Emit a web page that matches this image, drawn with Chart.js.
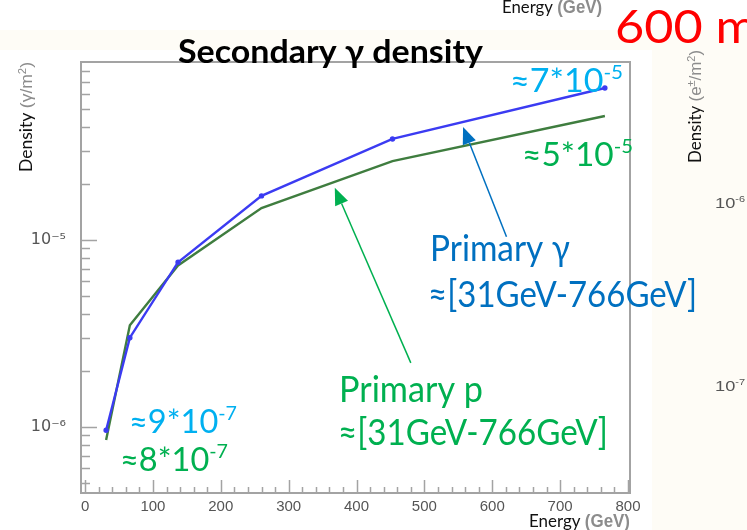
<!DOCTYPE html>
<html lang="en">
<head>
<meta charset="UTF-8">
<title>Secondary γ density</title>
<style>
  body { margin: 0; background: #fff; }
  canvas { display: block; }
</style>
</head>
<body>
<canvas id="chart" width="747" height="530"></canvas>
<script src="https://cdn.jsdelivr.net/npm/chart.js"></script>
<script>
// values
const energies = [31, 66, 137, 260, 453, 766];
const gammaDensity = [9.6e-7, 3.0e-6, 7.6e-6, 1.72e-5, 3.47e-5, 6.5e-5];
const protonDensity = [8.5e-7, 3.5e-6, 7.3e-6, 1.48e-5, 2.64e-5, 4.6e-5];

// axis ticks (ROOT style: majors + minors)
const xTickValues = [];
for (let v = 0; v <= 800; v += 20) xTickValues.push(v);
const yTickValues = [];
[-7, -6, -5].forEach(e => {
  for (let s = 1; s <= 9; s++) yTickValues.push(s * Math.pow(10, e));
});
const yMin = 4.43e-7, yMax = 8.95e-5;

// arrows [tail, tip] in data units
const arrowGamma = [[621, 1.04e-5], [557, 4.02e-5]];
const arrowProton = [[480, 2.2e-6], [368, 1.9e-5]];

const supDigits = { '-': '⁻', '0': '⁰', '1': '¹', '2': '²', '3': '³', '4': '⁴', '5': '⁵', '6': '⁶', '7': '⁷', '8': '⁸', '9': '⁹' };
function isDecade(v) {
  const l = Math.log10(v);
  return Math.abs(l - Math.round(l)) < 1e-9;
}
function decadeLabel(v) {
  const e = String(Math.round(Math.log10(v)));
  return '10' + e.split('').map(c => supDigits[c]).join('');
}

// draw text pieces (optionally superscript), squeezed to a given width
function drawParts(ctx, parts, x, y, size, width, opts) {
  opts = opts || {};
  const fam = opts.family || 'Lato';
  const weight = opts.weight || 'normal';
  const fontFor = p => `${p.weight || weight} ${p.sup ? Math.round(size * 0.62) : size}px ${p.family || fam}`;
  let natural = 0;
  parts.forEach(p => { ctx.font = fontFor(p); natural += ctx.measureText(p.t).width; });
  const k = width ? width / natural : 1;
  ctx.save();
  ctx.translate(x, y);
  if (opts.rotate) ctx.rotate(opts.rotate);
  ctx.scale(k, 1);
  ctx.textAlign = 'left';
  ctx.textBaseline = 'alphabetic';
  let cx = 0;
  parts.forEach(p => {
    ctx.font = fontFor(p);
    ctx.fillStyle = p.c;
    ctx.fillText(p.t, cx, p.sup ? -size * 0.38 : 0);
    cx += ctx.measureText(p.t).width;
  });
  ctx.restore();
}

function drawArrow(ctx, x1, y1, x2, y2, color) {
  const a = Math.atan2(y2 - y1, x2 - x1);
  const len = 17, half = 7;
  const bx = x2 - len * Math.cos(a), by = y2 - len * Math.sin(a);
  ctx.save();
  ctx.strokeStyle = color;
  ctx.fillStyle = color;
  ctx.lineWidth = 1.5;
  ctx.beginPath();
  ctx.moveTo(x1, y1);
  ctx.lineTo(bx, by);
  ctx.stroke();
  ctx.beginPath();
  ctx.moveTo(x2, y2);
  ctx.lineTo(bx + half * Math.sin(a), by - half * Math.cos(a));
  ctx.lineTo(bx - half * Math.sin(a), by + half * Math.cos(a));
  ctx.closePath();
  ctx.fill();
  ctx.restore();
}

const slidePlugin = {
  id: 'slide',
  beforeDraw(chart) {
    const ctx = chart.ctx;
    ctx.save();
    ctx.fillStyle = '#ffffff';
    ctx.fillRect(0, 0, chart.width, chart.height);
    ctx.fillStyle = '#fefcf6';
    ctx.fillRect(0, 30, chart.width, 20);
    ctx.fillRect(652, 30, chart.width - 652, chart.height - 30);
    ctx.restore();
  },
  afterDraw(chart) {
    const ctx = chart.ctx;
    const ca = chart.chartArea;
    const xs = chart.scales.x, ys = chart.scales.y;

    // frame
    ctx.save();
    ctx.strokeStyle = '#a3a3a3';
    ctx.lineWidth = 2;
    ctx.strokeRect(ca.left, ca.top, ca.right - ca.left, ca.bottom - ca.top);

    // inward ticks
    ctx.lineWidth = 1.5;
    ctx.beginPath();
    ys.ticks.forEach(t => {
      const py = Math.round(ys.getPixelForValue(t.value)) + 0.5;
      ctx.moveTo(ca.left, py);
      ctx.lineTo(ca.left + (isDecade(t.value) ? 16 : 9), py);
    });
    xs.ticks.forEach(t => {
      const px = Math.round(xs.getPixelForValue(t.value)) + 0.5;
      ctx.moveTo(px, ca.bottom);
      ctx.lineTo(px, ca.bottom - (t.value % 100 === 0 ? 13 : 6));
    });
    ctx.stroke();
    ctx.restore();

    // titles and axis labels
    drawParts(ctx, [{ t: 'Secondary γ density', c: '#000' }], 178, 63, 33, 305, { weight: 'bold' });
    drawParts(ctx, [{ t: '600 m', c: '#ff0000' }], 615, 43, 46, 142, {});
    const grayFam = 'Liberation Sans';
    drawParts(ctx, [{ t: 'Energy ', c: '#111' }, { t: '(GeV)', c: '#8c8c8c', family: grayFam, weight: 'bold' }], 502, 13, 18, 100);
    drawParts(ctx, [{ t: 'Energy ', c: '#111' }, { t: '(GeV)', c: '#8c8c8c', family: grayFam, weight: 'bold' }], 529, 527, 18, 101);
    drawParts(ctx, [
      { t: 'Density ', c: '#111' },
      { t: '(γ/m', c: '#8c8c8c', family: grayFam },
      { t: '2', c: '#8c8c8c', family: grayFam, sup: true },
      { t: ')', c: '#8c8c8c', family: grayFam }
    ], 32, 172, 17, 110, { rotate: -Math.PI / 2 });
    drawParts(ctx, [
      { t: 'Density ', c: '#111' },
      { t: '(e', c: '#8c8c8c', family: grayFam },
      { t: '±', c: '#8c8c8c', family: grayFam, sup: true },
      { t: '/m', c: '#8c8c8c', family: grayFam },
      { t: '2', c: '#8c8c8c', family: grayFam, sup: true },
      { t: ')', c: '#8c8c8c', family: grayFam }
    ], 701, 163, 17, 113, { rotate: -Math.PI / 2 });
    drawParts(ctx, [{ t: '10', c: '#555' }, { t: '-6', c: '#555', sup: true }], 715, 208, 15, 30, { family: grayFam });
    drawParts(ctx, [{ t: '10', c: '#555' }, { t: '-7', c: '#555', sup: true }], 715, 391, 15, 30, { family: grayFam });

    // annotations
    const lb = '#00b0f0', gr = '#00b050', db = '#0070c0';
    drawParts(ctx, [{ t: '≈7*10', c: lb }, { t: '-5', c: lb, sup: true }], 510, 92, 33, 113);
    drawParts(ctx, [{ t: '≈5*10', c: gr }, { t: '-5', c: gr, sup: true }], 522, 166, 33, 111);
    drawParts(ctx, [{ t: 'Primary γ', c: db }], 430, 261, 37, 140);
    drawParts(ctx, [{ t: '≈[31GeV-766GeV]', c: db }], 428, 307, 37, 269);
    drawParts(ctx, [{ t: 'Primary p', c: gr }], 339, 402, 37, 144);
    drawParts(ctx, [{ t: '≈[31GeV-766GeV]', c: gr }], 338, 445, 37, 270);
    drawParts(ctx, [{ t: '≈9*10', c: lb }, { t: '-7', c: lb, sup: true }], 129, 433, 33, 108);
    drawParts(ctx, [{ t: '≈8*10', c: gr }, { t: '-7', c: gr, sup: true }], 120, 471, 33, 108);

    [[arrowGamma, db], [arrowProton, gr]].forEach(([ar, col]) => {
      drawArrow(ctx,
        xs.getPixelForValue(ar[0][0]), ys.getPixelForValue(ar[0][1]),
        xs.getPixelForValue(ar[1][0]), ys.getPixelForValue(ar[1][1]), col);
    });
  }
};

new Chart(document.getElementById('chart'), {
  type: 'line',
  data: {
    datasets: [{
      label: 'Primary γ',
      data: energies.map((e, i) => ({ x: e, y: gammaDensity[i] })),
      borderColor: '#3b3bf2',
      backgroundColor: '#2a2ae8',
      borderWidth: 2.4,
      pointRadius: 1.5,
      tension: 0,
      fill: false
    }, {
      label: 'Primary p',
      data: energies.map((e, i) => ({ x: e, y: protonDensity[i] })),
      borderColor: '#3f7d3f',
      backgroundColor: '#3f7d3f',
      borderWidth: 2.4,
      pointRadius: 0,
      tension: 0,
      fill: false
    }]
  },
  options: {
    responsive: false,
    animation: false,
    layout: { padding: { left: 0, right: 117, top: 62, bottom: 0 } },
    plugins: { legend: { display: false }, tooltip: { enabled: false }, title: { display: false } },
    scales: {
      x: {
        type: 'linear',
        min: -6,
        max: 803,
        grid: { display: false, drawTicks: false },
        border: { display: false },
        afterBuildTicks: s => { s.ticks = xTickValues.map(v => ({ value: v })); },
        afterFit: s => { s.height = 37; },
        ticks: {
          autoSkip: false,
          maxRotation: 0,
          padding: 5,
          color: '#555',
          font: { family: 'Liberation Sans', size: 15 },
          callback: v => (v % 100 === 0 ? String(v) : '')
        }
      },
      y: {
        type: 'logarithmic',
        min: yMin,
        max: yMax,
        grid: { display: false, drawTicks: false },
        border: { display: false },
        afterBuildTicks: s => { s.ticks = yTickValues.filter(v => v >= yMin && v <= yMax).map(v => ({ value: v })); },
        afterFit: s => { s.width = 81; },
        ticks: {
          autoSkip: false,
          padding: 15,
          color: '#555',
          font: { family: 'DejaVu Sans', size: 16 },
          callback: v => (isDecade(v) ? decadeLabel(v) : '')
        }
      }
    }
  },
  plugins: [slidePlugin]
});
</script>
</body>
</html>
